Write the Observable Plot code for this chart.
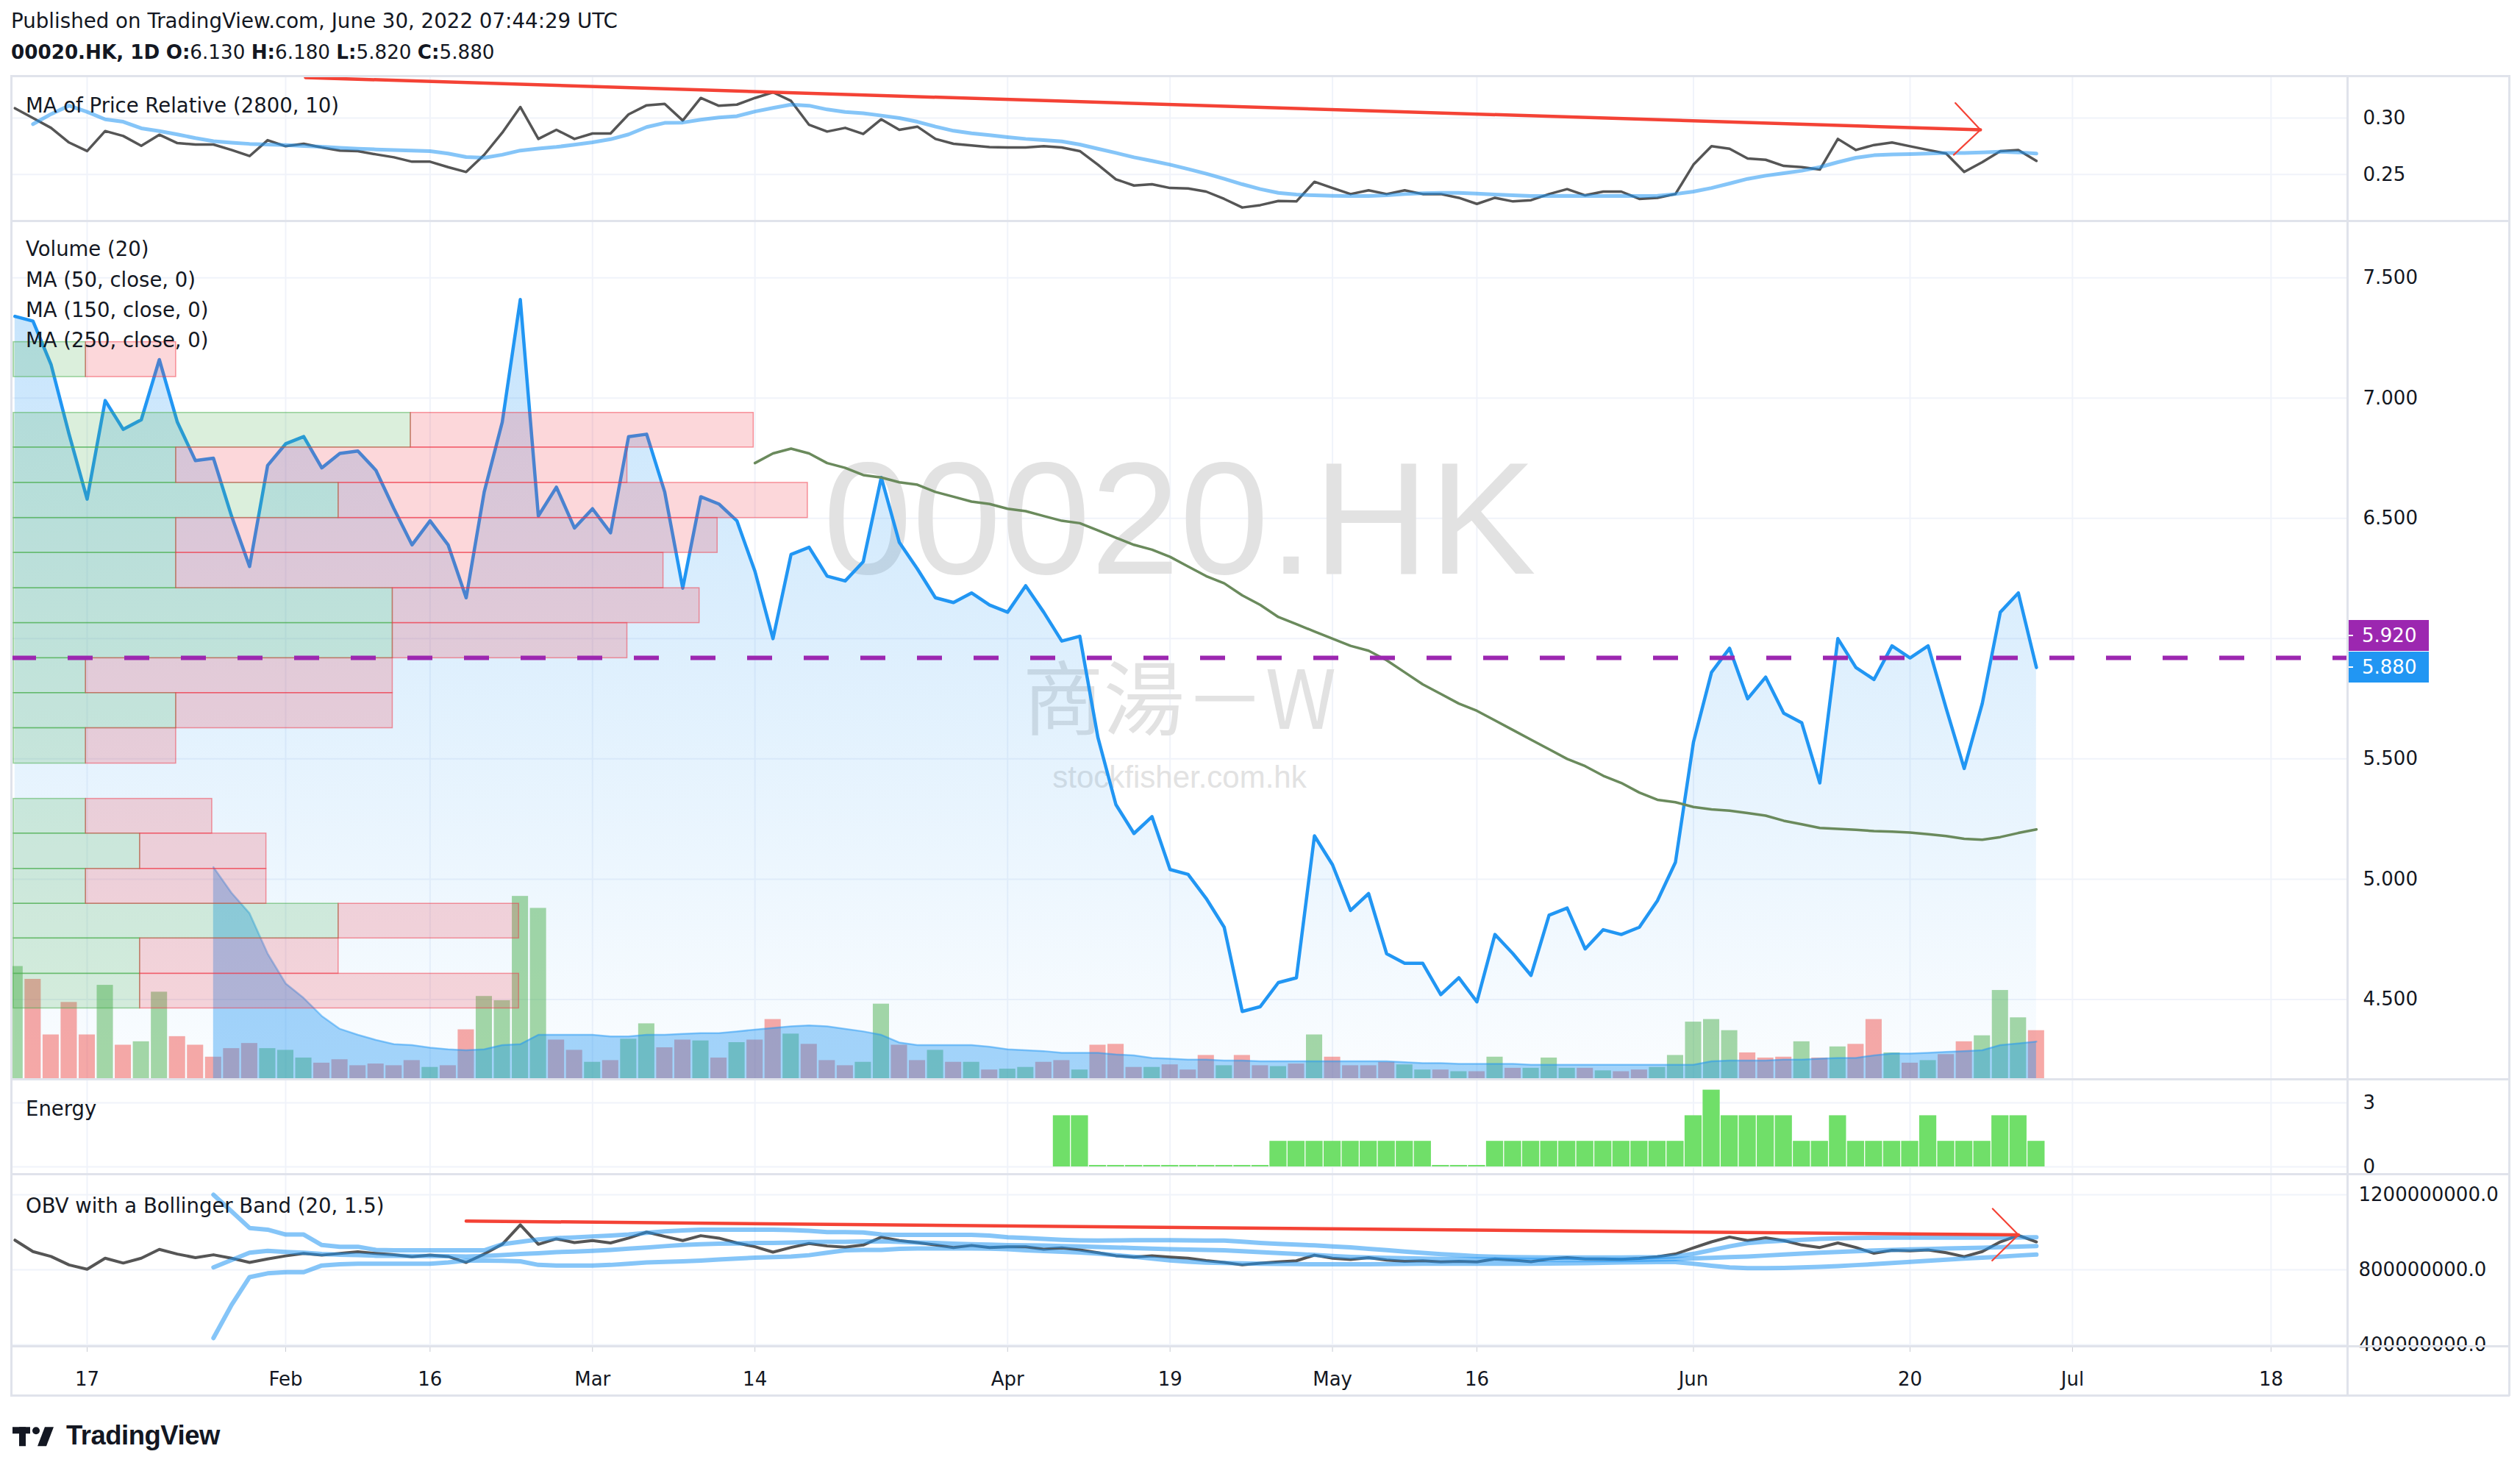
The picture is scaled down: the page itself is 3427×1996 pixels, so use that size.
<!DOCTYPE html>
<html><head><meta charset="utf-8">
<script src="https://cdn.jsdelivr.net/npm/d3@7"></script>
<script src="https://cdn.jsdelivr.net/npm/@observablehq/plot@0.6"></script>
<style>
body{margin:0;background:#fff;}
#chart{position:relative;width:3427px;height:1996px;background:#fff;overflow:hidden;font-family:"DejaVu Sans",sans-serif;color:#131722;}
.layer{position:absolute;left:0;}
.layer svg{display:block;}
.t{position:absolute;white-space:nowrap;transform:translateY(-50%);line-height:1;}
.hl{position:absolute;background:#e0e3eb;}
.lab{position:absolute;left:3192px;width:111px;height:42px;color:#fff;font-size:26px;line-height:42px;box-sizing:border-box;padding-left:20px;}
.lab:before{content:"";position:absolute;left:0;top:20px;width:8px;height:2px;background:#fff;}
</style></head>
<body><div id="chart"></div>
<script>
// ---------- data (bar index 0 = Jan 17 2022; first bar index = -4) ----------
const firstIdx = -4;
const closePrice = [7.34,7.32,7.14,6.85,
6.58,6.99,6.87,6.91,7.16,6.90,6.74,6.75,6.51,6.30,
6.72,6.81,6.84,6.71,6.77,6.78,6.70,6.54,6.39,6.49,
6.39,6.17,6.61,6.90,7.41,6.51,6.63,6.46,6.54,6.44,
6.84,6.85,6.61,6.21,6.59,6.56,6.49,6.28,6.00,6.35,
6.38,6.26,6.24,6.32,6.67,6.40,6.29,6.17,6.15,6.19,
6.14,6.11,6.22,6.11,5.99,6.01,5.59,5.31,5.19,5.26,
5.04,5.02,4.92,4.80,4.45,4.47,4.57,4.59,5.18,5.06,
4.87,4.94,4.69,4.65,4.65,4.52,4.59,4.49,4.77,4.69,
4.60,4.85,4.88,4.71,4.79,4.77,4.80,4.91,5.07,5.57,
5.86,5.96,5.75,5.84,5.69,5.65,5.40,6.00,5.88,5.83,
5.97,5.92,5.97,5.71,5.46,5.73,6.11,6.19,5.88];
const ma50Start = 37;
const ma50 = [6.73,6.77,6.79,6.77,6.73,6.71,6.68,6.67,6.65,6.64,6.61,6.59,6.57,6.56,6.54,
6.53,6.51,6.49,6.48,6.45,6.42,6.39,6.37,6.34,6.30,6.26,6.23,6.18,6.14,6.09,6.06,6.03,6.00,
5.97,5.95,5.91,5.86,5.81,5.77,5.73,5.70,5.66,5.62,5.58,5.54,5.50,5.47,5.43,5.40,5.36,5.33,
5.32,5.30,5.29,5.285,5.275,5.264,5.243,5.228,5.213,5.209,5.205,5.200,5.198,5.194,5.187,
5.179,5.168,5.164,5.175,5.192,5.207];
// volume in millions of shares, candle direction 1 = up (green), 0 = down (red)
const volume = [66,58.5,26,45,
26,55,20,22,51,25,20,13,18,21,
18,17,12.5,9.5,11.5,8,9,8,11,7,
8,29,48.5,46,107,100,23,17,10,11,
23.5,32.5,18.5,23,22.5,12.5,21.5,23,35,26.5,
20.5,11,8,10,44,20,11,17,10,10,
5.5,6,7,10,11,5.5,20,20.5,7,7,
8.5,5.5,14,8,14,8,7.5,9,26,13,
8,8,10,8.5,5.5,5.5,4.5,4.5,13,6.5,
6.5,12.5,6.5,6.5,5,4.5,5.5,7,14,33.5,
35,28.5,15.5,12.5,13,22,12.5,19,20.5,35,
15.5,9.5,11,14.5,22,25.5,52,36,28.5];
const volDir = [1,0,0,0,
0,1,0,1,1,0,0,0,0,0,
1,1,1,0,0,0,0,0,0,1,
0,0,1,1,1,1,0,0,1,0,
1,1,0,0,1,0,1,0,0,1,
0,0,0,1,1,0,0,1,0,1,
0,1,1,0,0,1,0,0,0,1,
0,0,0,1,0,0,1,0,1,0,
0,0,0,1,1,0,1,0,1,0,
1,1,1,0,1,0,0,1,1,1,
1,1,0,0,0,1,0,1,0,0,
1,0,1,0,0,1,1,1,0];
const volMaStart = 7;
const volMa = [124,109,97,73.5,56,47.5,37,29.5,26,23,20.5,20,18.5,17.5,17,17.5,20,20.5,26,26,
26,26,25,25,26,26,26.5,27,27,28,29,30,31,31.5,31,29.5,28,26,21.5,20,20,20,20,19,17.5,
17,16.5,15.5,15.5,15.5,14.5,14,12.5,12,11.5,11.5,11,11,10.5,10.5,10.5,10.5,10.5,10.5,10.5,
10.5,10,9.5,9.5,9,9,9,9,8.5,8.5,8.5,8.5,8.5,8.5,8.5,8.5,8.5,8.5,10.5,11,11,11,11.5,11.5,
12,12.5,12.5,14,15,15,15.5,16,16.5,17,20,21,22];
// volume profile rows (price bins) with up / down volume (relative units)
const profTop    = [7.233,6.939,6.795,6.648,6.502,6.357,6.210,6.065,5.919,5.774,5.628,5.334,5.190,5.043,4.898,4.754,4.607];
const profBottom = [7.088,6.795,6.648,6.502,6.357,6.210,6.065,5.919,5.774,5.628,5.481,5.190,5.043,4.898,4.754,4.607,4.463];
const profUp     = [4,22,9,18,9,9,21,21,4,9,4,4,7,4,18,7,7];
const profDown   = [5,19,25,26,30,27,17,13,17,12,5,7,7,10,10,11,21];
const levelLine = 5.92;
// MA of price relative (vs 2800)
const rel = [0.3087,0.3000,0.2913,0.2783,
0.2707,0.2885,0.2841,0.2754,0.2852,0.2778,0.2765,0.2765,0.2717,0.2663,
0.2804,0.2750,0.2772,0.2739,0.2711,0.2707,0.2678,0.2652,0.2613,0.2613,
0.2565,0.2522,0.2674,0.2870,0.3098,0.2815,0.2896,0.2815,0.2863,0.2863,
0.3033,0.3113,0.3126,0.2978,0.3178,0.3109,0.3119,0.3178,0.3228,0.3152,
0.2940,0.2880,0.2913,0.2859,0.2989,0.2896,0.2924,0.2815,0.2772,0.2757,
0.2743,0.2739,0.2739,0.2750,0.2739,0.2707,0.2587,0.2457,0.2402,0.2413,
0.2380,0.2376,0.2348,0.2283,0.2207,0.2228,0.2265,0.2261,0.2435,0.2380,
0.2326,0.2359,0.2326,0.2359,0.2326,0.2326,0.2293,0.2239,0.2293,0.2261,
0.2272,0.2326,0.2370,0.2315,0.2348,0.2348,0.2283,0.2293,0.2326,0.2587,
0.2750,0.2728,0.2641,0.2630,0.2576,0.2565,0.2543,0.2815,0.2717,0.2761,
0.2783,0.2750,0.2717,0.2685,0.2522,0.2609,0.2707,0.2717,0.2620];
const relMaStart = -3;
const relMa = [0.2946,0.3035,0.3110,
0.3055,0.2989,0.2967,0.2909,0.2884,0.2855,0.2822,0.2795,0.2782,0.2771,
0.2766,0.2761,0.2752,0.2745,0.2736,0.2728,0.2722,0.2716,0.2711,0.2706,
0.2685,0.2655,0.2648,0.2675,0.2712,0.2730,0.2744,0.2763,0.2785,0.2812,
0.2855,0.2920,0.2957,0.2960,0.2985,0.3005,0.3017,0.3058,0.3090,0.3119,
0.3110,0.3076,0.3054,0.3043,0.3022,0.3000,0.2967,0.2924,0.2887,0.2865,
0.2848,0.2830,0.2815,0.2804,0.2793,0.2765,0.2728,0.2691,0.2652,0.2620,
0.2587,0.2548,0.2507,0.2461,0.2413,0.2370,0.2337,0.2322,0.2315,0.2311,
0.2309,0.2309,0.2315,0.2326,0.2333,0.2337,0.2337,0.2330,0.2322,0.2315,
0.2309,0.2309,0.2311,0.2309,0.2309,0.2311,0.2309,0.2311,0.2326,0.2348,
0.2380,0.2420,0.2461,0.2489,0.2511,0.2533,0.2565,0.2609,0.2648,0.2670,
0.2678,0.2680,0.2685,0.2691,0.2691,0.2696,0.2702,0.2696,0.2685];
const relTrendX = [12.1, 104.9], relTrendY = [0.3359, 0.2896];
// Energy
const energyStart = 54;
const energy = [2.4,2.4,0.07,0.07,0.07,0.07,0.07,0.07,0.07,0.07,0.07,0.07,
1.2,1.2,1.2,1.2,1.2,1.2,1.2,1.2,1.2,0.07,0.07,0.07,
1.2,1.2,1.2,1.2,1.2,1.2,1.2,1.2,1.2,1.2,1.2,
2.4,3.6,2.4,2.4,2.4,2.4,1.2,1.2,2.4,1.2,1.2,1.2,1.2,2.4,1.2,1.2,1.2,2.4,2.4,1.2];
// OBV (millions) with Bollinger band (20, 1.5)
const obvM = [958,897,871,826,
803,862,836,862,909,884,865,880,862,839,
858,874,887,878,887,896,887,880,870,878,
871,839,884,936,1040,936,965,945,956,943,
969,1001,978,956,982,969,943,923,894,919,
940,927,921,932,974,956,945,932,919,930,
919,923,923,910,917,906,891,875,868,875,
868,862,849,839,826,835,842,848,878,862,
855,865,852,845,848,842,845,842,858,852,
843,858,865,858,858,856,861,870,884,917,
949,975,956,971,956,932,919,943,919,888,
904,901,906,891,870,897,949,984,949];
const bbStart = 7;
const bbUpper = [1200,1112,1023,
1014,988,988,932,923,923,906,904,904,904,
904,904,904,936,949,962,969,973,978,982,
988,997,1005,1010,1014,1014,1014,1014,1014,1012,
1008,1001,1001,999,988,986,986,986,986,986,
982,974,970,965,960,957,956,957,958,958,
958,957,956,956,950,943,938,934,930,925,
920,912,905,897,890,883,878,873,870,868,
867,866,866,866,866,866,867,868,872,885,
905,925,942,950,955,960,965,968,970,971,
972,972,972,972,972,972,972,973,974];
const bbBasis = [813,852,891,
901,895,891,884,880,878,875,875,874,874,
873,871,874,878,884,888,894,897,901,906,
913,919,926,932,936,939,940,943,943,945,
948,949,949,951,952,949,945,943,939,936,
934,931,930,929,927,925,922,919,916,913,
910,908,906,904,899,894,889,884,879,874,
869,866,864,862,860,858,857,856,855,854,
853,853,852,852,852,852,853,855,857,861,
864,868,871,876,881,886,891,895,899,903,
906,909,911,914,916,918,921,924,927];
const bbLower = [436,612,761,
781,787,787,823,829,832,832,832,832,832,
839,849,849,848,845,826,823,823,823,826,
832,839,842,845,849,855,860,865,868,871,
878,891,904,906,906,912,914,914,914,914,
913,910,904,900,896,892,886,878,870,860,
850,843,838,836,834,832,831,830,829,829,
829,829,830,831,832,832,832,832,832,832,
832,833,834,835,837,839,840,841,841,832,
822,813,809,809,810,813,816,820,825,830,
836,842,848,854,860,865,870,876,881];
const obvTrendX = [21.0, 107.0], obvTrendY = [1060, 986];
// axes
const xTicks = [0,11,19,28,37,51,60,69,77,89,101,110,121];
const xTickLabels = ["17","Feb","16","Mar","14","Apr","19","May","16","Jun","20","Jul","18"];
const priceTicks = [4.5,5,5.5,6,6.5,7,7.5];
const relTicks = [0.25,0.30];
const energyTicks = [0,3];
const obvTicks = [400,800,1200];
const wmText = ["00020.HK","商湯－W","stockfisher.com.hk"];

(function(){
// ---------- tables ----------
const series = (arr, start) => arr.map((v,k)=>({i:start+k, v}));
const priceData = closePrice.map((c,k)=>({i:firstIdx+k,c}));
const ma50Data = series(ma50, ma50Start);
const volData = volume.map((v,k)=>({i:firstIdx+k,v,up:volDir[k]}));
const volMaData = series(volMa, volMaStart);
const profData = profTop.map((t,k)=>({hi:t,lo:profBottom[k],up:profUp[k],tot:profUp[k]+profDown[k]}));
const relData = series(rel, firstIdx);
const relMaData = series(relMa, relMaStart);
const energyData = series(energy, energyStart);
const obvData = series(obvM, firstIdx);
const bbU = series(bbUpper, bbStart), bbB = series(bbBasis, bbStart), bbL = series(bbLower, bbStart);
const xLabelMap = new Map(xTicks.map((t,k)=>[t,xTickLabels[k]]));

// ---------- layout ----------
const W = 3427, mL = 15, mR = 235;
const xDomain = [-4.196, 125.24];
const GRID = "#f0f3fa";
const chart = document.getElementById("chart");
const baseStyle = "background:transparent;overflow:visible;font-family:'DejaVu Sans',sans-serif;font-size:26px;color:#131722;";
function place(svg, y){ const d=document.createElement("div"); d.className="layer"; d.style.top=y+"px"; d.appendChild(svg); chart.appendChild(d); return svg; }
function P(opts){ return Plot.plot(Object.assign({width:W, marginLeft:mL, marginRight:mR, marginTop:0, marginBottom:0, style:baseStyle}, opts)); }
const gridX = () => Plot.ruleX(xTicks, {stroke: GRID, strokeWidth: 2});

// top panel: MA of Price Relative
const topPanel = P({height:197, x:{domain:xDomain, axis:null}, y:{domain:[0.20872,0.33717], axis:null},
  marks:[
    gridX(), Plot.ruleY(relTicks,{stroke:GRID,strokeWidth:2}),
    Plot.axisY({anchor:"right", ticks:relTicks, tickFormat:d3.format(".2f"), tickSize:0, tickPadding:21, label:null}),
    Plot.lineY(relData,{x:"i",y:"v",stroke:"#555555",strokeWidth:3.5}),
    Plot.lineY(relMaData,{x:"i",y:"v",stroke:"rgba(33,150,243,0.55)",strokeWidth:5}),
    Plot.arrow([0],{x1:relTrendX[0],y1:relTrendY[0],x2:relTrendX[1],y2:relTrendY[1],stroke:"#f44336",strokeWidth:4.5,headLength:0}),
    Plot.arrow([0],{x1:relTrendX[0],y1:relTrendY[0],x2:relTrendX[1],y2:relTrendY[1],stroke:"#f44336",strokeWidth:2.2,headLength:34,headAngle:90})
  ]});
place(topPanel, 103);

// main price panel (layer A)
const priceDomain = [4.1679, 7.7364];
const wm = (k, dy, size, font) => Plot.text([wmText[k]],{text:d=>d, frameAnchor:"top", lineAnchor:"middle", dy, fontSize:size, fontFamily:font, fill:"#e2e2e2"});
const mainPanel = P({height:1167, x:{domain:xDomain, axis:null}, y:{domain:priceDomain, axis:null},
  marks:[
    gridX(), Plot.ruleY(priceTicks,{stroke:GRID,strokeWidth:2}),
    Plot.axisY({anchor:"right", ticks:priceTicks, tickFormat:d3.format(".3f"), tickSize:0, tickPadding:21, label:null}),
    wm(0, 410, 218, "Liberation Sans"),
    wm(1, 655, 110, "Noto Sans CJK TC"),
    wm(2, 757, 42, "Liberation Sans"),
    Plot.areaY(priceData,{x:"i", y1:priceDomain[0], y2:"c", fill:"url(#priceGrad)"}),
    Plot.lineY(priceData,{x:"i", y:"c", stroke:"#2196f3", strokeWidth:4.5}),
    Plot.lineY(ma50Data,{x:"i", y:"v", stroke:"#6a8a5c", strokeWidth:3.5})
  ]});
place(mainPanel, 300);
{
  const defs = d3.select(mainPanel).insert("defs", ":first-child");
  const lg = defs.append("linearGradient").attr("id","priceGrad").attr("gradientUnits","userSpaceOnUse")
    .attr("x1",0).attr("x2",0).attr("y1",0).attr("y2",1167);
  lg.append("stop").attr("offset","0").attr("stop-color","#2196f3").attr("stop-opacity",0.28);
  lg.append("stop").attr("offset","1").attr("stop-color","#2196f3").attr("stop-opacity",0.02);
}

// volume layer (B)
const volTop = 1167 * 0.43;
const volPanel = P({height:1167, x:{domain:xDomain, axis:null}, y:{domain:[0, volTop], axis:null}, color:{type:"identity"},
  marks:[
    Plot.rect(volData,{x1:d=>d.i-0.5, x2:d=>d.i+0.5, y1:0, y2:"v", insetLeft:1.25, insetRight:1.25,
      fill:d=>d.up ? "rgba(76,175,80,0.5)" : "rgba(239,83,80,0.5)", clip:true}),
    Plot.areaY(volMaData,{x:"i", y1:0, y2:"v", fill:"rgba(33,150,243,0.4)"}),
    Plot.lineY(volMaData,{x:"i", y:"v", stroke:"rgba(33,150,243,0.45)", strokeWidth:2.5})
  ]});
place(volPanel, 300);

// volume profile + level line (C)
const profPanel = P({height:1167, x:{domain:[0,100], range:[18, 18+100*24.545], axis:null}, y:{domain:priceDomain, axis:null},
  marks:[
    Plot.rect(profData,{x1:0, x2:"up", y1:"lo", y2:"hi", fill:"rgba(76,175,80,0.2)", stroke:"rgba(76,175,80,0.55)", strokeWidth:1.5}),
    Plot.rect(profData,{x1:"up", x2:"tot", y1:"lo", y2:"hi", fill:"rgba(242,54,69,0.2)", stroke:"rgba(242,54,69,0.5)", strokeWidth:1.5}),
    Plot.ruleY([levelLine],{stroke:"#9c27b0", strokeWidth:6, strokeDasharray:"34,43"})
  ]});
place(profPanel, 300);

// energy panel
const enPanel = P({height:129, x:{domain:xDomain, axis:null}, y:{domain:[-0.345, 4.103], axis:null},
  marks:[
    gridX(), Plot.ruleY(energyTicks,{stroke:GRID,strokeWidth:2}),
    Plot.axisY({anchor:"right", ticks:energyTicks, tickFormat:d=>String(d), tickSize:0, tickPadding:21, label:null}),
    Plot.rect(energyData,{x1:d=>d.i-0.5, x2:d=>d.i+0.5, y1:0, y2:"v", insetLeft:0.65, insetRight:0.65, fill:"#70df69"})
  ]});
place(enPanel, 1467);

// OBV panel + time axis
const obvPanel = P({height:301, marginBottom:67, x:{domain:xDomain, axis:null}, y:{domain:[392, 1310], axis:null},
  marks:[
    gridX(), Plot.ruleY(obvTicks,{stroke:GRID,strokeWidth:2}),
    Plot.axisY({anchor:"right", ticks:obvTicks, tickFormat:d=>(d*1e6).toFixed(1), tickSize:0, tickPadding:15, label:null}),
    Plot.lineY(obvData,{x:"i", y:"v", stroke:"#555555", strokeWidth:4}),
    Plot.lineY(bbU,{x:"i", y:"v", stroke:"rgba(33,150,243,0.55)", strokeWidth:6}),
    Plot.lineY(bbB,{x:"i", y:"v", stroke:"rgba(33,150,243,0.55)", strokeWidth:6}),
    Plot.lineY(bbL,{x:"i", y:"v", stroke:"rgba(33,150,243,0.55)", strokeWidth:6}),
    Plot.arrow([0],{x1:obvTrendX[0],y1:obvTrendY[0],x2:obvTrendX[1],y2:obvTrendY[1],stroke:"#f44336",strokeWidth:4.5,headLength:0}),
    Plot.arrow([0],{x1:obvTrendX[0],y1:obvTrendY[0],x2:obvTrendX[1],y2:obvTrendY[1],stroke:"#f44336",strokeWidth:2.2,headLength:34,headAngle:90}),
    Plot.axisX({anchor:"bottom", ticks:xTicks, tickFormat:d=>xLabelMap.get(d), tickSize:8, tickPadding:27, label:null, stroke:"#c9ccd4"})
  ]});
place(obvPanel, 1596);

// price labels on the right axis
{
  const ys = profPanel.scale("y");
  const last = closePrice[closePrice.length-1];
  const mk = (txt, cy, bg) => { const d=document.createElement("div"); d.className="lab"; d.style.top=(cy-21)+"px"; d.style.background=bg; d.textContent=txt; chart.appendChild(d); };
  mk(levelLine.toFixed(3), 300 + ys.apply(levelLine) - 30, "#9c27b0");
  mk(last.toFixed(3), 300 + ys.apply(last), "#2196f3");
}

// borders
function hline(l,t,w,h){ const d=document.createElement("div"); d.className="hl"; Object.assign(d.style,{left:l+"px",top:t+"px",width:w+"px",height:h+"px"}); chart.appendChild(d); }
[103,300,1467,1596,1830,1897].forEach(y=>hline(14,y-1,3399,2.5));
hline(14,102,2.5,1796); hline(3191,102,2.5,1796); hline(3411,102,2.5,1796);

// texts
function label(s, l, cy, size, extra){ const d=document.createElement("div"); d.className="t"; d.style.left=l+"px"; d.style.top=cy+"px"; d.style.fontSize=size+"px"; if(extra) d.style.cssText+=extra; d.innerHTML=s; chart.appendChild(d); return d; }
label("Published on TradingView.com, June 30, 2022 07:44:29 UTC", 15, 29, 27.7);
label("<b>00020.HK, 1D</b> <b>O:</b>6.130 <b>H:</b>6.180 <b>L:</b>5.820 <b>C:</b>5.880", 15, 71, 26.2);
label("MA of Price Relative (2800, 10)", 35, 144, 27.5);
label("Volume (20)", 35, 339, 27.5);
label("MA (50, close, 0)", 35, 381, 27.5);
label("MA (150, close, 0)", 35, 422, 27.5);
label("MA (250, close, 0)", 35, 463, 27.5);
label("Energy", 35, 1508, 27.5);
label("OBV with a Bollinger Band (20, 1.5)", 35, 1640, 27.5);
label('<svg width="64" height="30" viewBox="0 0 64 30" style="vertical-align:middle"><rect x="0" y="2" width="24" height="9" fill="#131722"/><rect x="9" y="2" width="9" height="26" fill="#131722"/><circle cx="32" cy="7" r="5" fill="#131722"/><polygon points="44,2 56,2 46,28 34,28" fill="#131722"/></svg>', 17, 1952, 30);
label("<b>TradingView</b>", 90, 1952, 36.5, "font-family:'Liberation Sans',sans-serif;letter-spacing:-0.5px;");
})();
</script></body></html>
